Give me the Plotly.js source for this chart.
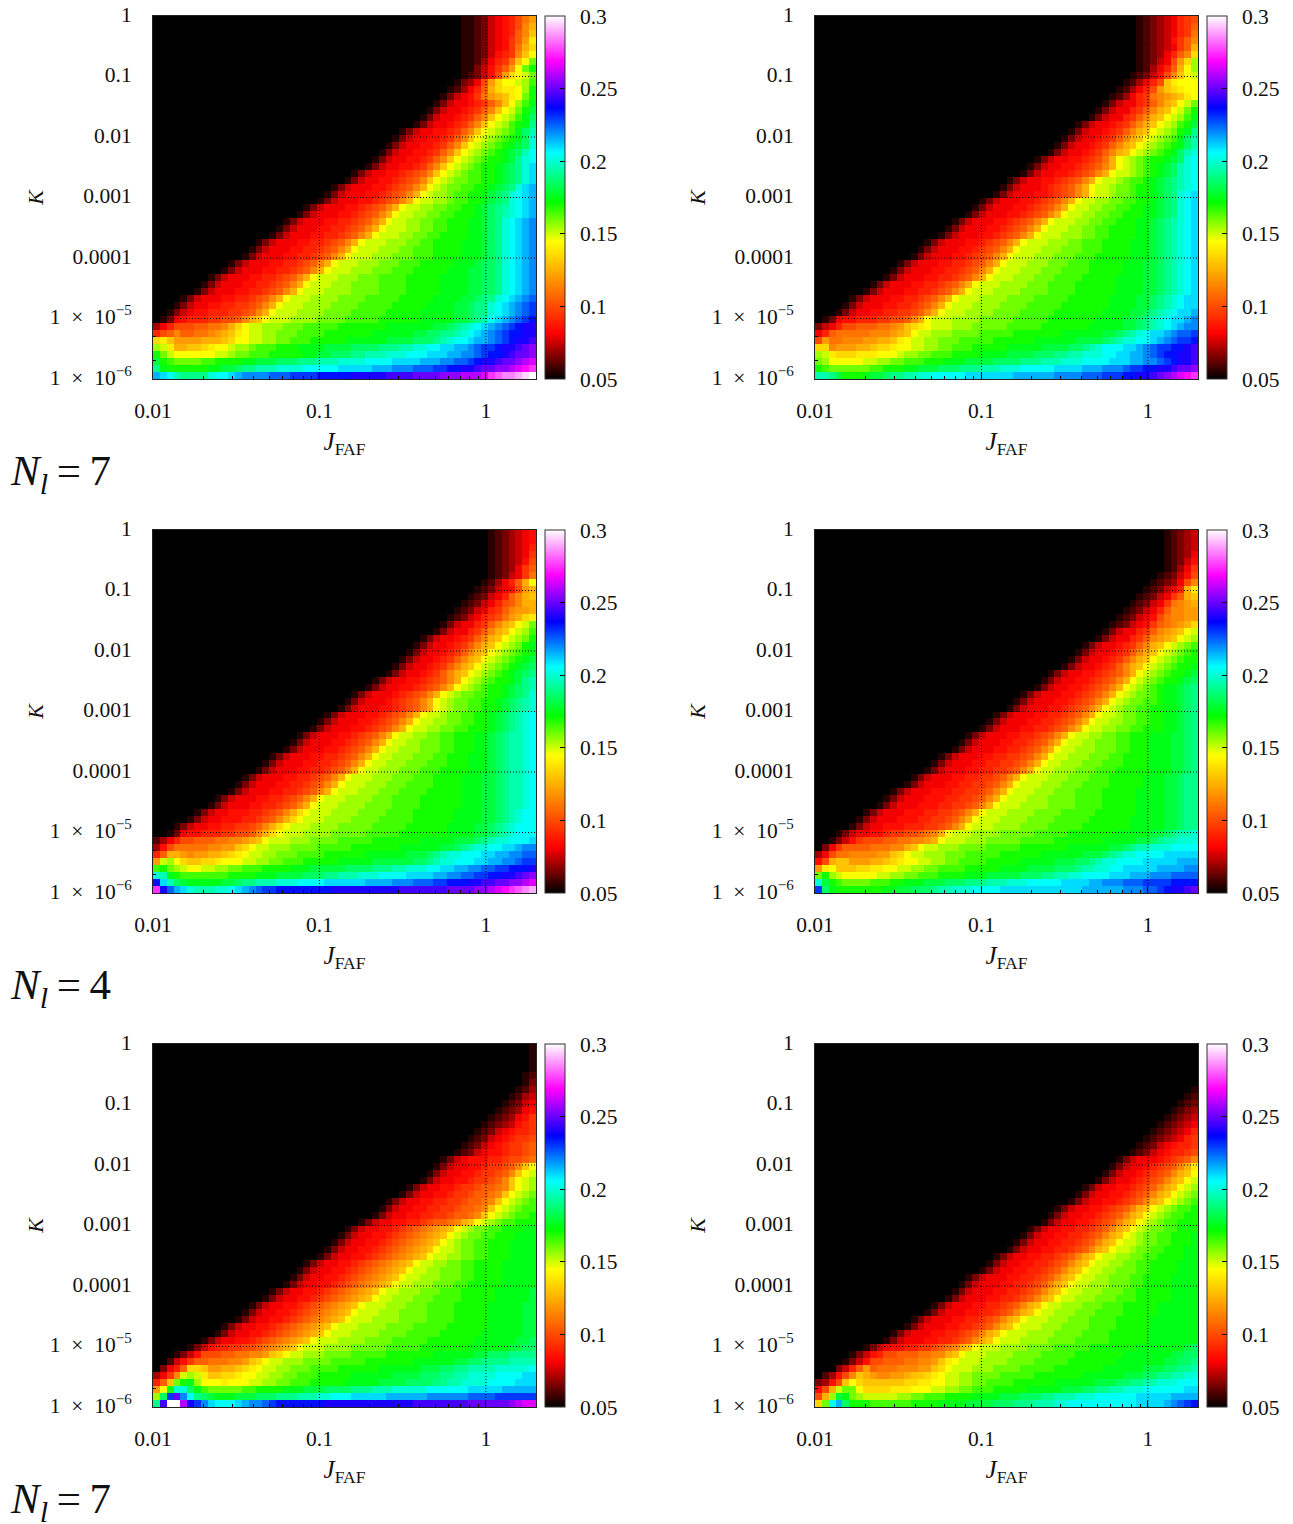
<!DOCTYPE html>
<html><head><meta charset="utf-8">
<script src="https://cdn.plot.ly/plotly-3.0.1.min.js"></script>
<style>html,body{margin:0;padding:0;background:#fff}</style></head>
<body><div id="chart" style="width:1293px;height:1524px"></div>
<script>
// Each letter is one cell: a=0.05, b=0.055 ... z=0.175, A=0.18 ... Y=0.30.
// Rows run from the top of the panel down; a row lists only its non-black cells, ending at the right edge.
const levelCodes = "abcdefghijklmnopqrstuvwxyzABCDEFGHIJKLMNOPQRSTUVWXY";
const panelA = ["bbcdfghikmo","bbcdfghiknp","bbcdfghilnq","bbcdfghjlos","bbcdfghjmpr","bbcdfhijnqt","bbcegijmqtw","bbdfhjlotwy","bcdfhkortuw",
"bdegkorttuvx","bcegilprsstvy","bdfghjmopqstwy","bdfgghijlnqtvxz","bdfgghijlnqtuwyA","bdfgghijlnqtuvxzB","bdfgghijlnqtuvxyzC","bdfgghhijlnqtuvwxzBD","bdfgghhijlnqtuvwxyzBE","bdfgghhijlnqtuvwxyzABE","bdfgghhijlnqtuvwxyzABDF","bdfgghhijlnqtuvwxyyzACEF","bdfgghhijlnqtuvwxyyzABCEG","bdfgghhijklnqtuvwxxyyzABCEG","bdfgghhijklnqtuvwwxxyyzABCEG","bdfggghhijklnptuvwwxxyyzABCEGH",
"bdfggghhijklnptuvvwxxyyzABCEFGH","bdfggghhijklnptuuvvwxxyyzABCEFGH","bdfggghhijklnptuuvvwwxxyyzABCDEFGH","bdfggghhijklnptuuvvwwxxyyyzABCDEFGH","bdfggghhiijklnptuuvvwwxxyyyzzABCEFGHI","bdfggghhiijklnptuuuvvwwxxyyyzzABCEFGHI","bdfggghhiijklnptuuuvvwwxxyyyyzzABCEFGHI","bdfggghhiijklnptuuuvvvwwxxyyyyzzzABCEFGHI","bdfggghhiijklnptuuuvvvwwxxxyyyyzzzABCEFGHI","bdfggghhiijklnptuuuvvvwwwxxxyyyyzzzABCEFGHI","bdfggghhiijklnptuuuvvvwwwxxxyyyyyzzzABBCEFGHI","bdfggghhiijklnptuuuvvvwwwxxxyyyyyzzzAABBCEFGHI","bdfggghhiijklnptuuuvvvwwwxxxxyyyyyzzzzAABBCEFGHI","bdfggghhiijklnptuuuvvvwwwwxxxxyyyyyzzzzAABBCEFGHI","bdfggghhiijklnptuuuvvvvwwwwxxxxyyyyyzzzzAABBCEFGHI","bdfggghhiijklnptuuuvvvvwwwwxxxxxyyyyyzzzzAABCCEFGHIJ","bdfgghhiijjklnptuuuvvvvwwwwxxxxxyyyyyzzzzAABCCEFGHIJK","bdfghhiiijjklnptuuuvvvvwwwwxxxxxyyyyyzzzzzAABCCEFGHIJK","bdghiiijjkklnpqtuuuvvvvwwwwxxxxxyyyyyyzzzzzAABCDFGHIJKL",
"egikkkllmmnprtuuvvvwwwxxxxxyyyyyyyzzzzzzzAABCDEFGHIJKLMM","iklnllmmnopqstuuvvwwwxxxxyyyyyyyzzzzzzAABBCCDEFGHIJKLLMM","rsqoooopppqrttuuvvwwxxxyyyyyzzzzzzAAAABBBCDEFFGHHIJKLMMN","vusppqqrsttuvvwxxxyyyzzzzAAAABBBBCCCDDEEFFGGHHIJKKLMMNOP","ywuttttttuuvwwxxxyyyyyzzAABBBCCDDDEEEFFFGGGHHIIJKLLMNOOP","AyxwwwwxxyyyyzzAAABBBCCCDDDEEEEFFFFGGGGHHHIIJJKLMMNOOPQR","CzyyyyyyzzAABCCDDDEEEEFFFFFGGGGGHHHIIIJJJKKLLMMNOOPPQRST","HGFDCCCCEFFGHIIIIJJJKKKKLLLLLMMMMMNNNNOOOOPPPQQQRTUVVWXY"];
const panelB = ["bcdefgijk","bcdefgijl","bcdefgijm","bcdefhjln","bcdefgjlp","bcdegilnr","bcdfgkorv","bcegilptv","bcdfhknqtu","bcegikqsttt","bcegikoqrstt","bcegijmnopqst","bdfggijlnpqtuw","bdfggijlnpqtuwy","bdfggijlnpqtuvxz","bdfgghijlnpqtuvxyA","bdfgghijlnpqtuvwyzC","bdfgghijlnpqtuvwxzBD","bdfgghijlnpqtuvwxyzBD","bdfgghijlnpqtuvwxyzBDE","bdfgghhijkmptuvwxyyzABEF","bdfgghhijklnptuvwxyzABDEF","bdfgghhijklnptuuvwxyzABDEF","bdfgghhijklnptuuvwxxyzABCDEF","bdfggghijklnptuuvwwxyyzABCDEF","bdfggghhijklnptuuvwwxyyzABCEFG","bdfggghhijklnptuuvvwwxxyyzABCEFG","bdfggghhijklnptuuvvwwxxyyzzABCEFG","bdfggghhijklnptuuvvwwxxyyyzzABCEFG","bdfggghhijklnptuuuvvwwxxyyyzzABCDEFG","bdfggghhijklnptuuuvvwwxxyyyyzzABCDEFG","bdfggghhijklnptuuuvvvwwxxyyyyzzABCDEFG","bdfggghhijklnptuuuvvvwwxxxyyyyzzzABCDEFG","bdfggghhijklnptuuuvvvwwwxxxyyyyzzzABCDEFG","bdfggghhijklnptuuuvvvwwwxxxyyyyyzzzABCDEFG","bdfggghhiijklnptuuuvvvwwwxxxyyyyyzzzAABCDEFG","bdfggghhiijklnptuuuvvvwwwxxxxyyyyyzzzAABCDEFG","bdfggghhiijklnptuuuvvvwwwxxxxyyyyyzzzzAABCDEFG","bdfggghhiijklnptuuuvvvvwwwxxxxyyyyyyzzzzAABCDEFG","bdfggghhiijklnptuuuvvvvwwwwxxxxyyyyyyzzzzAABCDEFG","bdfggghhiijklnptuuuvvvvwwwwxxxxxyyyyyyzzzzAABCDEFGG","bdfggghhiijklnptuuuvvvvwwwwxxxxxyyyyyyyzzzzAABCDEFGG","bdfgghhiijjklnptuuuvvvvwwwwxxxxxyyyyyyyzzzzAABCDEFGGH","bdghhiiijjkklnptuuuvvvvwwwwwxxxxxyyyyyyyzzzzAABCDEFGGHI","dfgikklllmmnoqrstuuuvvvwwwwwxxxxxyyyyyyyzzzzzAABCDEFGHII","gilmmmmmnnnopqtuuvvvwwwwxxxxxyyyyyyyzzzzzzAABCDEFGGHIJJK","kommnnnooppqstuuvvwwwxxxxxyyyyyyzzzzzzAAAABCDEEFFGHIJKKL","rrnoooppqrrsttuuvvwwxxxyyyyyzzzzzAAAABBCDEFFFGGHIJKKLLMN","vusrrrssstttuvvwwxxxyyyyzzzzAAAABBBCCDDEEEFFGGHHIJKLLMMN","wvtttttuuvvwwxxxyyyzzzAAAABBBBCCCDDDEEEFFFFGGGHHIIJKLMMN","yxwwwwwwxxyyyzzAAABBBCCCDDDEEEFFFFFGGGGHHHIIIJKKLLMMNOOP","DDCAyyyzAABCCDDEEFFFFFGGGGGGGHHHHHHIIIIJJJKKKLLMMNOPQRST"];
const panelC = ["bcdefgh","bcdefgh","bcdefgi","bcdefgj","bcdefhk","bcdegjl","bcdfgjm","bcegilpt","bcdfghkop","bcdfgilnpq","bcdfgiklnpp","bcdfgijlnoop","bcdfgijkmoprs","bdfggijlnpqtuw","bdfggijlnpqtuvx","bdfgghijlnpqtuvwy","bdfgghijlnpqtuvwyz","bdfgghijlnpqtuvwxyz","bdfgghijlnpqtuvwxyzA","bdfgghijlnpqtuvwxyzAB","bdfgghijlnpqtuvwxyzABC","bdfgghhijklnptuvwxyyzACD","bdfgghhijklnptuvwxyyzABCD","bdfggghijklnptuvwwxxyyzABCE","bdfggghijklnptuvwwxxyyzABCDE","bdfggghhijklnptuvwwxxyyzABCDE","bdfggghhijklnptuuvwwxxyyzABCDEF","bdfggghhijklnptuuvvwwxxyyzABCDEF","bdfggghhijklnptuuvvwwxxyyyzABCDEF","bdfggghhijklnptuuvvwwxxyyyzzABCDDEF","bdfggghhijklnptuuvvwwwxxyyyzzABCDDEF","bdfggghhijklnptuuvvvwwwxxyyyzzABCDDEF","bdfggghhiijklnptuuvvvwwwxxyyyzzzABCDDEF","bdfggghhiijklnptuuvvvwwwxxxyyyzzzABCDDEF","bdfggghhiijklnptuuvvvwwwxxxyyyyzzzABCDDEF","bdfggghhiijklnptuuuvvvwwwxxxyyyyzzzAABCDDEF","bdfggghhiijklnptuuuvvvwwwxxxxyyyyzzzAABCDDEF","bdfggghhiijklnptuuuvvvwwwxxxxyyyyyzzzAABCDDEF","bdfggghhiijklnptuuuvvvvwwwxxxxyyyyyyzzzAABCDDEF","bdfggghhiijklnptuuuvvvvwwwwxxxxyyyyyyzzzAABCDDEF","bdfgghhhiijklnprtuuuvvvvwwwwxxxxyyyyyyzzzzAABCDEFF","bdfgghhhiijklnprtuuuvvvvwwwwxxxxxyyyyyyzzzzAABCDEFF","bdfgghhiijjklnprtuuuvvvvwwwwwxxxxxyyyyyyzzzzAABCDEFFF","bdghhiiijjkklnprtuuuvvvvwwwwwxxxxxyyyyyyyzzzzAABCDEFFF","cegikklllmmnnopqtuuuvvvwwwwxxxxxyyyyyyyzzzzzAAABCDEEFFFG","ehkmmmmmnnooqrtuuvvvwwwwxxxxxyyyyyyyzzzzzzAABCDEEFFGGHII","ilpponooppqrstuuvvwwwxxxxyyyyyyzzzzzzAAABCDEEFFFGGHHIIJJ","ouvtrqqrrstttuuvvwwxxxyyyyyzzzzzAAAAAABBCDEEFFFGGHHIIJKK","xywvuttuuvvwwxxxyyyyzzzAAAAABBBBCCCDDEEEFFGGHHIIJJKKLLLM","EDzyxxxxxxxyyyyzzzAAAABBBCCDDDEEEFFFFGGGGHHIIJJKKLLMMNOP","LGDBAzzzzzAABCCDDDEEEFFFFGGGGGGHHHHIIIJJJKKLLLMMNNOOPPQR","TMJHGEDDDEEFGHIJKKLLLLLLLLMMMMMMMMMMNNNNNNNOOOOPPQRSTUVW"];
const panelD = ["bcdef","bcdef","bcdef","bcdeg","bcdfh","bcegj","bcdfhk","bcdegkn","bcdfgips","bcdfgjlpq","bcdfgjmnop","bcdfgilnnoo","bcdfghkmnnoo","bcdfghjlmnopr","bdfggijlnopqtu","bdfggijlnopqtuv","bdfgghijlnpqtuvwx","bdfgghijlnpqtuvwxy","bdfgghijlnpqtuvwxyy","bdfgghijlnpqtuvwxyyz","bdfgghhijklnptuvwxyyzA","bdfgghhijklnptuvwxyyzAB","bdfgghhijklnptuvwxyzzABC","bdfggghhijklnptuvwwxyzzABC","bdfggghhijklnptuvwwxxyzzABC","bdfggghhijklnptuvwwxxyyzzABC","bdfggghhiijklnptuuvwwxxyyzzABC","bdfggghhiijklnptuuvvwwxxyyzzABC","bdfggghhiijklnptuuvvwwxxyyyzzABC","bdfggghhiijklnptuuvvwwxxyyyzzzAABC","bdfggghhiijklnptuuvvwwwxxyyyzzzAABC","bdfggghhiijklnptuuvvvwwwxxyyyzzzAABC","bdfggghhiijjklnptuuvvvwwwxxyyyyzzzAABC","bdfggghhiijjklnptuuvvvwwwxxxyyyyzzzAABC","bdfggghhiijjklnptuuvvvwwwxxxyyyyyzzzAABC","bdfggghhiijjklnptuuuvvvwwwxxxyyyyyzzzAABCC","bdfggghhiijjklnptuuuvvvwwwxxxxyyyyyzzzAABCC","bdfggghhhiijjklnptuuuvvvwwwxxxxyyyyyzzzzAABCC","bdfggghhhiijjklnptuuuvvvwwwwxxxxyyyyyzzzzAABCC","bdfggghhhiijjklnptuuuvvvvwwwwxxxxyyyyyzzzzAABCC","bdfggghhhiijjklnptuuuvvvvwwwwxxxxxyyyyyyzzzzAABCC","bdfggghhhiijjklnptuuuvvvvwwwwxxxxxyyyyyyzzzzzAABCC","bdfgghhhiiijjklnptuuuvvvvwwwwxxxxxyyyyyyyzzzzzAABCC","bdfgghhijjkklmnptuuuvvvvwwwwwxxxxxyyyyyyyzzzzzAABCDDE","bdfhjkkkllmmnnoptuuuvvvwwwwwxxxxxyyyyyyyzzzzzAABCDDEEE","dgjllllmmmnnpqtuuvvvwwwwxxxxxyyyyyyyzzzzzzAABCDDEEEFFFF","egkmmnnnnooqrtuuvvvwwwxxxxxyyyyyyzzzzzzAAABCDEEFFFFGGGGG","hkpqqoooppqrsttuuvvwwxxxxyyyyyzzzzzAAABBCDEEFFFFGGGGGHHH","ostqqqrrssttuuvvwwxxxxyyyyyzzzzAAAABBBCDDEEFFGGGGGHHHHII","wyvutttttuuvvwwxxxyyyyzzzAAAAABBBCCDDEEFFFFGGGHHHIIIJJJJ","EAyxwwwwxxxyyzzzAAABBBCCCDDDEEEFFFFFGGGGHHIIIJJJKKKKLLLL","KBzyyyyyyyzzAABBBCDDEEEFFFFGGGGGGGGGGGGHHHHHHIIIJJKLMMNO"];
const panelE = ["b","b","b","b","bc","bd","bce","bcef","bcdfg","bcdegh","bcdeghj","bcdefhij","bcdfghiij","bcdfghijjk","bcdfghijjkl","bcdfghhijjkl","bdfghhhiijkklm","bdfgghhijjklnqt","bdfgghhijjklnqtu","bdfgghhijjklnqtuv","bdfgghhijjkllmnqtuv","bdfgghhijjkllmnqtuvw","bdfgghhiijjkllmnqtuvwx","bdfgghhiijjkllmnqtuvwxx","bdfgghhiijjkllmnqtuvwxxy","bdfgghhiijkllmnpqtuvwxxyyy","bdfgghhijklmnopqtuvwwxxyyyzz","bdfgghhijklmnopqtuvwwxxyyyzzz","bdfgghhijklmnopqtuvwwxxyyyzzzz","bdfgghhijklmnopqtuuvwwxxyyyzzzz","bdfgghhijklmnopqtuuvvwwxxyyyzzzz","bdfgghhijklmnopqtuuvvwwxxyyyyzzzzz","bdfgghhijklmnopqtuuvvwwwxxyyyyzzzzz","bdfgghhijklmnopqtuuvvvwwwxxyyyyzzzzz","bdfgghhijklmnopqtuuvvvwwwxxyyyyyzzzzz","bdfgghhijklmnopqtuuvvvwwwxxxyyyyyzzzzzA","bdfgghhijklmnopqtuuvvvwwwxxxxyyyyyzzzzzA","bdfgghhijklmnopqtuuuvvvwwwxxxxyyyyyzzzzzAA","bdfgghhijklmnopqtuuuvvvwwwwxxxxyyyyyzzzzzAA","bdfgghhijklmnopqtuuuvvvvwwwwxxxxyyyyyzzzzzAA","bdfgghhijklmnopqtuuuvvvvwwwwxxxxxyyyyyyzzzzzAA","bdfgghhijklmnopqtuuuvvvvwwwwxxxxxyyyyyyzzzzzzAA","bdfgghhijklmnopqtuuuvvvvwwwwxxxxxyyyyyyyzzzzzzAAB","bdfhiijjkklmnopqtuuuvvvvwwwwwxxxxxyyyyyyyzzzzzzAABB","bdfhkkkllmmnnoqrtuuvvvwwwwxxxxxyyyyyyyzzzzzzAABBBCCCC","cfhjllmmmnnoqrtuuvvvwwwwxxxxxyyyyyyyzzzzzzAABBCCCCDDDD","dgilrrqooppqrstuuvvwwwxxxxyyyyyyzzzzzzAAABBCCDDDDEEEEEF","egjnuvusqqrrsttuuvvwwxxxyyyyyzzzzzzAAAABBBCCDDEEEEFFFFGG","ilqwyzvtttstttuuvvwwxxxyyyyyzzzzzAAAABBBBCCDDEEEEFFFFGGG","otyEEBzxwwwwwxxyyyyzzzAAABBBBCCCDDDEEEEEFFFFFFGGGGGHHHHH","vBKOIFCBAzzzAAABBBCCCDDDEEFFFGGGGGHHHHHHIIIIIIJJJJKKKKKK","CNYYQMKIGFFFGHIIJKLLLLLLLMMMMMMMMMMMMMNNNNNNNNOOOOOOPQRR"];
const panelF = ["","","","","","","b","bc","bcd","bcde","bcdef","bcdefg","bcdefgi","bcdefgij","bcdfghiij","bcdfghiijk","bdfggghijkln","bdfgghijklnps","bdfgghijklnpqt","bdfgghijklnpqtu","bdfgghhijklnpqtuv","bdfgghhijklnpqtuvw","bdfgghhijklnpqtuvwx","bdfgghhijklnpqtuvwxxy","bdfgghhijklnpqtuvwxxyy","bdfgghhijklnpqtuvwxxyyy","bdfgghhiijklnpqtuvwwxxyyy","bdfgghhiijklnpqtuvwwxxyyyz","bdfgghhiijklnpqtuuvwwxxyyyz","bdfgghhiijklnpqtuuvwwxxyyyzz","bdfgghhiijklnpqtuuvvwwxxyyyyzz","bdfgghhiijklnpqtuuvvwwxxyyyyzzz","bdfgghhiijklnpqtuuvvwwwxxyyyyzzz","bdfggghhiijklnpqtuuvvwwwxxyyyyzzzz","bdfggghhiijklnpqtuuvvvwwwxxyyyyzzzz","bdfggghhiijklnpqtuuvvvwwwxxyyyyyzzzz","bdfggghhiijklnpqtuuvvvwwwxxxyyyyyzzzz","bdfggghhiijklnpqtuuvvvwwwxxxyyyyyzzzzzz","bdfggghhiijklnpqtuuvvvwwwxxxxyyyyyzzzzzz","bdfggghhiijklnpqtuuuvvvwwwxxxxyyyyyzzzzzzz","bdfggghhiijklnpqtuuuvvvwwwwxxxxyyyyyzzzzzzz","bdfggghhiijklnpqtuuuvvvvwwwwxxxxyyyyyyzzzzzzz","bdfggghhiijklnpqtuuuvvvvwwwwxxxxxyyyyyyzzzzzzz","bdfghhiijjklmnpqtuuuvvvvwwwwxxxxxyyyyyyyzzzzzzzAB","bdfhikklllmmnnpqtuuuvvvvwwwwxxxxxyyyyyyyzzzzzzzAABB","bdfhkklllmmnnoqstuuuvvvvwwwwxxxxxyyyyyyyzzzzzzzAABBC","dfilolmmmnnnooqrtuuuvvvwwwwxxxxxyyyyyyyzzzzzzAAABBCCD","cehknqponnoopqqrstuuvvwwwwxxxxxyyyyyyyzzzzzzAAABBCCDDEE","dehkqtrqqqqqqrrssttuuvvwwxxxxyyyyyyzzzzzzAAABBCCDDEEEFFF","hkpuwwtrrrrssstttuuvvwwxxxyyyyyzzzzzAAABBCCDDEEEFFFFFFGG","kpvAzwvuuuuuvvwwxxxyyyyzzzzAAABBBCCDDDEEEFFFFFFGGGGGHHHH","rwFHByyyxxxxxxyyyyzzzzAAAABBBCCCDDDEEFFFFFFFFFFGGGGHIJKL"];

const panels = [panelA, panelB, panelC, panelD, panelE, panelF];
const panelNames = ["A","B","C","D","E","F"];
const xTickVals = [0.01, 0.1, 1];
const xTickText = ["0.01", "0.1", "1"];
const xMinorVals = [0.02,0.03,0.04,0.05,0.06,0.07,0.08,0.09,0.2,0.3,0.4,0.5,0.6,0.7,0.8,0.9,2];
const yTickVals = [1e-6,1e-5,1e-4,1e-3,1e-2,0.1,1];
const yTickText = ["1\u2002×\u200210<sup>−6</sup>","1\u2002×\u200210<sup>−5</sup>","0.0001","0.001","0.01","0.1","1"];
const yMinorVals = [2e-6,5e-6,2e-5,5e-5,2e-4,5e-4,2e-3,5e-3,0.02,0.05,0.2,0.5];
const xGridVals = [0.1, 1];
const yGridVals = [1e-5,1e-4,1e-3,1e-2,0.1];
const barTickVals = [0.05,0.1,0.15,0.2,0.25,0.3];
const barTickText = ["0.05","0.1","0.15","0.2","0.25","0.3"];
const rowLabels = ["7","4","7"];
const colorStops = [[0,"#000000"],[0.126,"#ff0000"],[0.379,"#ffff00"],[0.488,"#00ff00"],[0.623,"#00ffff"],[0.747,"#0000ff"],[0.876,"#ff00ff"],[1,"#ffffff"]];

const W = 1293, H = 1524, COLS = 56, ROWS = 52;
const serif = "'Liberation Serif', 'DejaVu Serif', serif";
const lefts = [153, 815], tops = [16, 530, 1044], plotW = 383, plotH = 363;
const tickFont = {family: serif, size: 21.5, color: "#111"};
const xEdges = [], yEdges = [];
for (let i = 0; i <= COLS; i++) xEdges.push(Math.pow(10, -2 + i * (Math.log10(2) + 2) / COLS));
for (let j = 0; j <= ROWS; j++) yEdges.push(Math.pow(10, -6 + j * 6 / ROWS));

function decode(rows) {
  const z = [];
  for (let r = ROWS - 1; r >= 0; r--) {
    const s = rows[r];
    const row = new Array(COLS).fill(0.05);
    for (let k = 0; k < s.length && k < COLS; k++) row[COLS - s.length + k] = 0.05 + levelCodes.indexOf(s[k]) * 0.005;
    z.push(row);
  }
  return z;
}

const data = [], layout = {
  width: W, height: H, margin: {l:0,r:0,t:0,b:0}, paper_bgcolor: "#fff", plot_bgcolor: "#000",
  font: {family: serif, size: 20, color: "#111"}, showlegend: false, shapes: [],
  annotations: []
};

panels.forEach((rows, p) => {
  const col = p % 2, row = Math.floor(p / 2), n = p + 1;
  const L = lefts[col], T = tops[row];
  const xa = "xaxis" + (n === 1 ? "" : n), ya = "yaxis" + (n === 1 ? "" : n);
  const xr = "x" + (n === 1 ? "" : n), yr = "y" + (n === 1 ? "" : n);
  data.push({type: "heatmap", name: "Panel " + panelNames[p], x: xEdges, y: yEdges, z: decode(rows), xaxis: xr, yaxis: yr,
    zmin: 0.05, zmax: 0.3, colorscale: colorStops, hoverongaps: false, xgap: 0, ygap: 0,
    colorbar: {x: (L + plotW + 9) / W, xanchor: "left", xref: "paper", y: 1 - (T + plotH / 2) / H, yanchor: "middle",
      len: plotH / H, lenmode: "fraction", thickness: 20, thicknessmode: "pixels", xpad: 0, ypad: 0,
      outlinecolor: "#333", outlinewidth: 1, borderwidth: 0, tickmode: "array", tickvals: barTickVals, ticktext: barTickText.map(t => "\u00a0\u2009" + t),
      ticks: "inside", ticklen: 5, tickwidth: 1, tickcolor: "#000", tickfont: tickFont}});
  xGridVals.forEach(v => data.push({type: "scatter", mode: "lines", x: [v, v], y: [1e-6, 1], xaxis: xr, yaxis: yr, hoverinfo: "skip", line: {color: "#000", width: 1, dash: "1px,2px"}}));
  yGridVals.forEach(v => data.push({type: "scatter", mode: "lines", x: [0.01, 2], y: [v, v], xaxis: xr, yaxis: yr, hoverinfo: "skip", line: {color: "#000", width: 1, dash: "1px,2px"}}));
  layout[xa] = {type: "log", domain: [L / W, (L + plotW) / W], range: [-2, Math.log10(2)], anchor: yr, showgrid: false, zeroline: false,
    showline: true, mirror: true, linecolor: "#222", linewidth: 1, ticks: "inside", ticklen: 6, tickcolor: "#000",
    tickmode: "array", tickvals: xTickVals, ticktext: xTickText, ticklabelstandoff: 12, tickfont: tickFont,
    minor: {tickmode: "array", tickvals: xMinorVals, ticks: "inside", ticklen: 3, tickcolor: "#000", showgrid: false},
    title: {text: "<i>J</i><sub>FAF</sub>", font: {family: serif, size: 25, color: "#111"}, standoff: 10}};
  layout[ya] = {type: "log", domain: [1 - (T + plotH) / H, 1 - T / H], range: [-6, 0], anchor: xr, showgrid: false, zeroline: false,
    showline: true, mirror: true, linecolor: "#222", linewidth: 1, ticks: "inside", ticklen: 6, tickcolor: "#000",
    tickmode: "array", tickvals: yTickVals, ticktext: yTickText, ticklabelstandoff: 16, ticklabelshift: -2, tickfont: tickFont,
    minor: {tickmode: "array", tickvals: yMinorVals, ticks: "inside", ticklen: 3, tickcolor: "#000", showgrid: false},
    title: {text: "<i>K</i>", font: {family: serif, size: 22, color: "#111"}, standoff: 0}};
  barTickVals.slice(1, -1).forEach(v => {
    const yy = 1 - (T + plotH * (0.3 - v) / 0.25) / H;
    layout.shapes.push({type: "line", xref: "paper", yref: "paper", layer: "above", x0: (L + plotW + 9) / W, x1: (L + plotW + 14) / W, y0: yy, y1: yy, line: {color: "#000", width: 1}});
  });
});
rowLabels.forEach((v, i) => layout.annotations.push({xref: "paper", yref: "paper", x: 8 / W, y: 1 - (tops[i] + 458) / H, xanchor: "left", yanchor: "middle", showarrow: false,
  text: "<i>N</i><sub><i>l</i></sub>\u2009=\u2009" + v, font: {family: serif, size: 43, color: "#111"}}));

Plotly.newPlot("chart", data, layout, {displayModeBar: false, responsive: false});
</script></body></html>
